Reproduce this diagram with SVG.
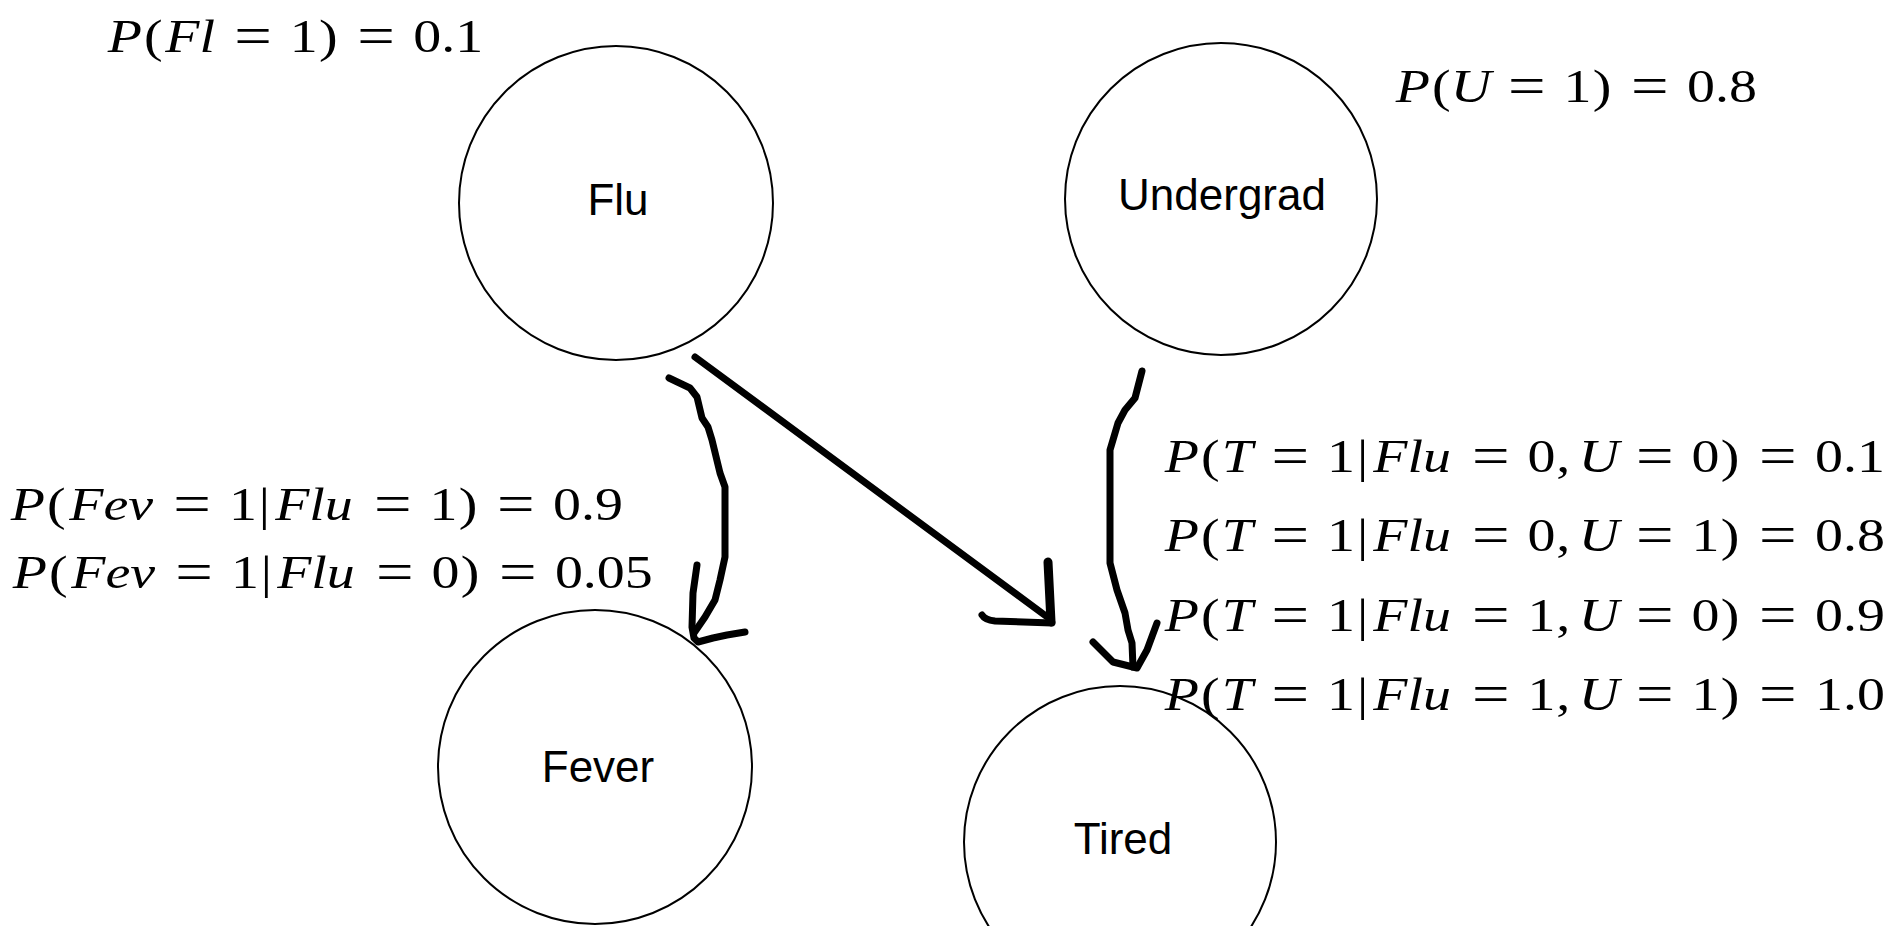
<svg xmlns="http://www.w3.org/2000/svg" width="1893" height="926" viewBox="0 0 1893 926">
<style>
.node circle { fill: none; stroke: #000; stroke-width: 2; }
.lbl { font-family: "Liberation Sans", Arial, sans-serif; font-size: 44px; text-anchor: middle; fill: #000; }
.eq { font-family: "Liberation Serif", "Times New Roman", serif; font-size: 47px; text-anchor: middle; fill: #000; }
.i { font-style: italic; }
.q { font-size: 56px; }
.conn path { fill: none; stroke: #000; stroke-width: 7; stroke-linecap: round; stroke-linejoin: round; }
</style>
<rect width="1893" height="926" fill="#fff"/>

<g id="node-flu" class="node">
  <circle cx="616" cy="203" r="157"/>
  <text class="lbl" x="618" y="215">Flu</text>
</g>
<g id="node-undergrad" class="node">
  <circle cx="1221" cy="199" r="156"/>
  <text class="lbl" x="1222" y="210">Undergrad</text>
</g>
<g id="node-fever" class="node">
  <circle cx="595" cy="767" r="157"/>
  <text class="lbl" x="598" y="782">Fever</text>
</g>
<g id="node-tired" class="node">
  <circle cx="1120" cy="842" r="156"/>
  <text class="lbl" x="1123" y="854">Tired</text>
</g>

<g id="connectors" class="conn">
  <g id="edge-flu-fever">
    <path d="M669,378 L690,388 L697,397 L702,418 L708,427 L712,440 L720,473 L725,487 L725,557 L720,580 L715,600 L705,617 L694,633"/>
    <path d="M697,565 L693,593 L692,627 L694,638 L698,642 L713,638 L727,635 L745,632"/>
  </g>
  <g id="edge-flu-tired">
    <path d="M695,357 L1050,619"/>
    <path d="M1048,562 L1051,622" style="stroke-width:9"/>
    <path d="M982,615 Q985,620 995,621 L1052,623"/>
  </g>
  <g id="edge-undergrad-tired">
    <path d="M1142,371 L1135,398 L1125,410 L1118,423 L1110,450 L1110,563 L1117,590 L1125,613 L1128,630 L1132,643 L1133,667"/>
    <path d="M1093,642 L1113,662 L1137,668 L1147,650 L1157,623"/>
  </g>
</g>

<g id="prob-flu" transform="translate(107,52) scale(1.19,1)">
  <text class="eq" y="0"><tspan class="i" x="14.93">P</tspan><tspan x="38.9">(</tspan><tspan class="i" x="69.82">Fl</tspan><tspan class="q" x="122.71" dy="3"> = </tspan><tspan x="165.35" dy="-3">1</tspan><tspan x="186.02">)</tspan><tspan class="q" x="226.08" dy="3"> = </tspan><tspan x="286.81" dy="-3">0.1</tspan></text>
</g>
<g id="prob-undergrad" transform="translate(1395,102) scale(1.19,1)">
  <text class="eq" y="0"><tspan class="i" x="14.93">P</tspan><tspan x="38.9">(</tspan><tspan class="i" x="63.82">U</tspan><tspan class="q" x="110.72" dy="3"> = </tspan><tspan x="153.36" dy="-3">1</tspan><tspan x="174.03">)</tspan><tspan class="q" x="214.09" dy="3"> = </tspan><tspan x="274.82" dy="-3">0.8</tspan></text>
</g>

<g id="cpt-fever">
  <g transform="translate(10,520) scale(1.19,1)">
    <text class="eq" y="0"><tspan class="i" x="14.93">P</tspan><tspan x="38.9">(</tspan><tspan class="i" x="85">Fev</tspan><tspan class="q" x="153.08" dy="3"> = </tspan><tspan x="195.72" dy="-3">1</tspan><tspan x="213.81">|</tspan><tspan class="i" x="255.45">Flu</tspan><tspan class="q" x="321.64" dy="3"> = </tspan><tspan x="364.28" dy="-3">1</tspan><tspan x="384.95">)</tspan><tspan class="q" x="425.01" dy="3"> = </tspan><tspan x="485.74" dy="-3">0.9</tspan></text>
  </g>
  <g transform="translate(12,588) scale(1.19,1)">
    <text class="eq" y="0"><tspan class="i" x="14.93">P</tspan><tspan x="38.9">(</tspan><tspan class="i" x="85">Fev</tspan><tspan class="q" x="153.08" dy="3"> = </tspan><tspan x="195.72" dy="-3">1</tspan><tspan x="213.81">|</tspan><tspan class="i" x="255.45">Flu</tspan><tspan class="q" x="321.64" dy="3"> = </tspan><tspan x="364.28" dy="-3">0</tspan><tspan x="384.95">)</tspan><tspan class="q" x="425.01" dy="3"> = </tspan><tspan x="497.36" dy="-3">0.05</tspan></text>
  </g>
</g>

<g id="cpt-tired">
  <g transform="translate(1164,472) scale(1.19,1)">
    <text class="eq" y="0"><tspan class="i" x="14.93">P</tspan><tspan x="38.9">(</tspan><tspan class="i" x="61.52">T</tspan><tspan class="q" x="106.11" dy="3"> = </tspan><tspan x="148.75" dy="-3">1</tspan><tspan x="166.84">|</tspan><tspan class="i" x="208.48">Flu</tspan><tspan class="q" x="274.68" dy="3"> = </tspan><tspan x="317.32" dy="-3">0</tspan><tspan x="341.3">, </tspan><tspan class="i" x="365.51">U</tspan><tspan class="q" x="412.41" dy="3"> = </tspan><tspan x="455.05" dy="-3">0</tspan><tspan x="475.72">)</tspan><tspan class="q" x="515.78" dy="3"> = </tspan><tspan x="576.51" dy="-3">0.1</tspan></text>
  </g>
  <g transform="translate(1164,551) scale(1.19,1)">
    <text class="eq" y="0"><tspan class="i" x="14.93">P</tspan><tspan x="38.9">(</tspan><tspan class="i" x="61.52">T</tspan><tspan class="q" x="106.11" dy="3"> = </tspan><tspan x="148.75" dy="-3">1</tspan><tspan x="166.84">|</tspan><tspan class="i" x="208.48">Flu</tspan><tspan class="q" x="274.68" dy="3"> = </tspan><tspan x="317.32" dy="-3">0</tspan><tspan x="341.3">, </tspan><tspan class="i" x="365.51">U</tspan><tspan class="q" x="412.41" dy="3"> = </tspan><tspan x="455.05" dy="-3">1</tspan><tspan x="475.72">)</tspan><tspan class="q" x="515.78" dy="3"> = </tspan><tspan x="576.51" dy="-3">0.8</tspan></text>
  </g>
  <g transform="translate(1164,631) scale(1.19,1)">
    <text class="eq" y="0"><tspan class="i" x="14.93">P</tspan><tspan x="38.9">(</tspan><tspan class="i" x="61.52">T</tspan><tspan class="q" x="106.11" dy="3"> = </tspan><tspan x="148.75" dy="-3">1</tspan><tspan x="166.84">|</tspan><tspan class="i" x="208.48">Flu</tspan><tspan class="q" x="274.68" dy="3"> = </tspan><tspan x="317.32" dy="-3">1</tspan><tspan x="341.3">, </tspan><tspan class="i" x="365.51">U</tspan><tspan class="q" x="412.41" dy="3"> = </tspan><tspan x="455.05" dy="-3">0</tspan><tspan x="475.72">)</tspan><tspan class="q" x="515.78" dy="3"> = </tspan><tspan x="576.51" dy="-3">0.9</tspan></text>
  </g>
  <g transform="translate(1164,710) scale(1.19,1)">
    <text class="eq" y="0"><tspan class="i" x="14.93">P</tspan><tspan x="38.9">(</tspan><tspan class="i" x="61.52">T</tspan><tspan class="q" x="106.11" dy="3"> = </tspan><tspan x="148.75" dy="-3">1</tspan><tspan x="166.84">|</tspan><tspan class="i" x="208.48">Flu</tspan><tspan class="q" x="274.68" dy="3"> = </tspan><tspan x="317.32" dy="-3">1</tspan><tspan x="341.3">, </tspan><tspan class="i" x="365.51">U</tspan><tspan class="q" x="412.41" dy="3"> = </tspan><tspan x="455.05" dy="-3">1</tspan><tspan x="475.72">)</tspan><tspan class="q" x="515.78" dy="3"> = </tspan><tspan x="576.51" dy="-3">1.0</tspan></text>
  </g>
</g>
</svg>
